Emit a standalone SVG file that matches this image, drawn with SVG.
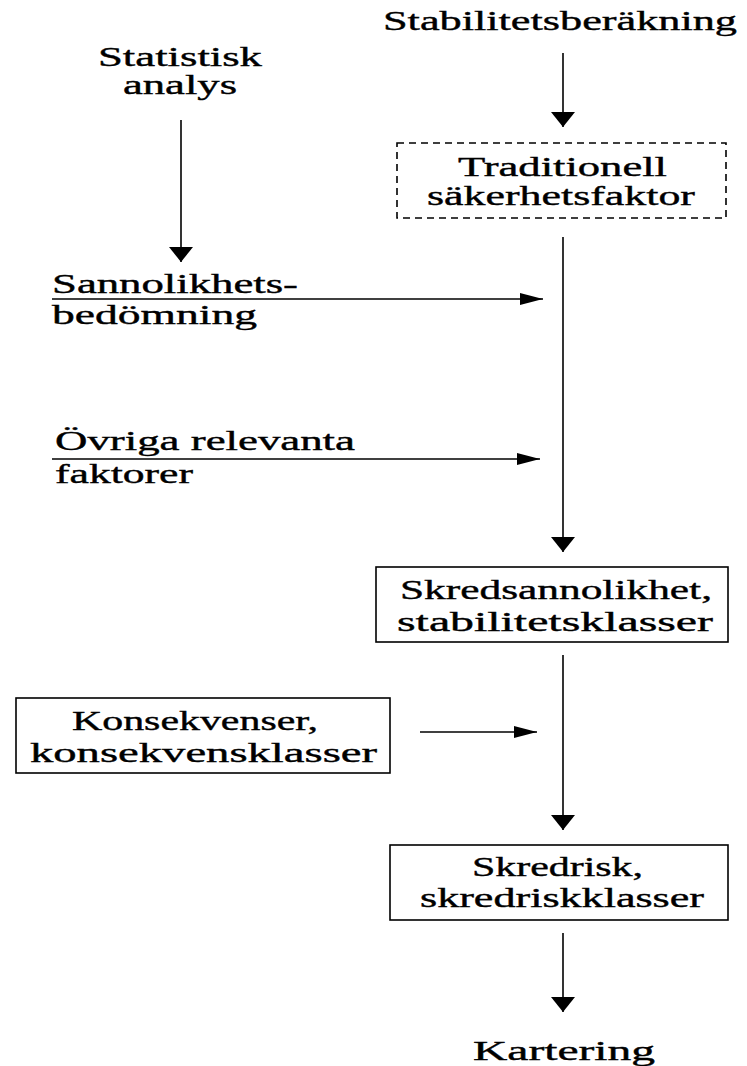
<svg xmlns="http://www.w3.org/2000/svg" width="747" height="1066" viewBox="0 0 747 1066">
<style>
text{font-family:"Liberation Serif","Times New Roman",serif;font-size:28px;fill:#000;stroke:#000;stroke-width:0.4}
.box{fill:#fff;stroke:#000;stroke-width:1.6}
.dash{fill:#fff;stroke:#000;stroke-width:1.6;stroke-dasharray:7 5}
.ln{stroke:#000;stroke-width:1.6;fill:none}
</style>
<defs>
<marker id="arrV" viewBox="0 0 15 24" markerWidth="15" markerHeight="24" refX="15" refY="12" orient="auto" markerUnits="userSpaceOnUse"><path d="M0,0 L15,12 L0,24 z" fill="#000"/></marker>
<marker id="arrH" viewBox="0 0 23 12" markerWidth="23" markerHeight="12" refX="23" refY="6" orient="auto" markerUnits="userSpaceOnUse"><path d="M0,0 L23,6 L0,12 z" fill="#000"/></marker>
</defs>
<rect width="747" height="1066" fill="#fff"/>
<g id="connectors">
<line class="ln" x1="563" y1="53" x2="563" y2="127" marker-end="url(#arrV)"/>
<line class="ln" x1="181" y1="120" x2="181" y2="262" marker-end="url(#arrV)"/>
<line class="ln" x1="52" y1="299" x2="543" y2="299" marker-end="url(#arrH)"/>
<line class="ln" x1="52" y1="459" x2="540" y2="459" marker-end="url(#arrH)"/>
<line class="ln" x1="563" y1="237" x2="563" y2="552" marker-end="url(#arrV)"/>
<line class="ln" x1="563" y1="655" x2="563" y2="830" marker-end="url(#arrV)"/>
<line class="ln" x1="420" y1="732" x2="537" y2="732" marker-end="url(#arrH)"/>
<line class="ln" x1="563" y1="933" x2="563" y2="1012" marker-end="url(#arrV)"/>
</g>
<g id="stabilitetsberakning"><text x="383" y="30" textLength="354" lengthAdjust="spacingAndGlyphs">Stabilitetsberäkning</text></g>
<g id="traditionell">
<rect class="dash" x="397" y="143" width="329" height="75"/>
<text x="458" y="176" textLength="209" lengthAdjust="spacingAndGlyphs">Traditionell</text>
<text x="427" y="205" textLength="268" lengthAdjust="spacingAndGlyphs">säkerhetsfaktor</text>
</g>
<g id="statistisk">
<text x="98" y="66" textLength="164" lengthAdjust="spacingAndGlyphs">Statistisk</text>
<text x="123" y="94" textLength="114" lengthAdjust="spacingAndGlyphs">analys</text>
</g>
<g id="sannolikhet">
<text x="52" y="293" textLength="246" lengthAdjust="spacingAndGlyphs">Sannolikhets-</text>
<text x="52" y="324" textLength="205" lengthAdjust="spacingAndGlyphs">bedömning</text>
</g>
<g id="ovriga">
<text x="55" y="450" textLength="300" lengthAdjust="spacingAndGlyphs">Övriga relevanta</text>
<text x="55" y="483" textLength="138" lengthAdjust="spacingAndGlyphs">faktorer</text>
</g>
<g id="skredsannolikhet">
<rect class="box" x="376" y="567" width="352" height="75"/>
<text x="400" y="599" textLength="312" lengthAdjust="spacingAndGlyphs">Skredsannolikhet,</text>
<text x="397" y="631" textLength="316" lengthAdjust="spacingAndGlyphs">stabilitetsklasser</text>
</g>
<g id="konsekvenser">
<rect class="box" x="16" y="698" width="374" height="75"/>
<text x="72" y="730" textLength="246" lengthAdjust="spacingAndGlyphs">Konsekvenser,</text>
<text x="30" y="762" textLength="347" lengthAdjust="spacingAndGlyphs">konsekvensklasser</text>
</g>
<g id="skredrisk">
<rect class="box" x="390" y="845" width="338" height="75"/>
<text x="472" y="876" textLength="171" lengthAdjust="spacingAndGlyphs">Skredrisk,</text>
<text x="420" y="907" textLength="284" lengthAdjust="spacingAndGlyphs">skredriskklasser</text>
</g>
<g id="kartering"><text x="473" y="1060" textLength="182" lengthAdjust="spacingAndGlyphs">Kartering</text></g>
</svg>
